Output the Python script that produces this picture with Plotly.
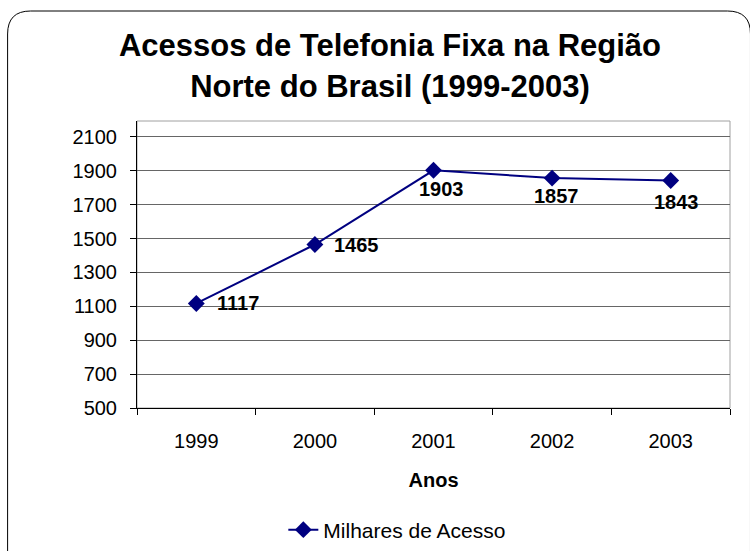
import plotly.graph_objects as go

# data
anos = ['1999', '2000', '2001', '2002', '2003']
acessos = [1117, 1465, 1903, 1857, 1843]
# label offsets from each marker (px)
desloc_x = [42, 42, 8, 4, 6]
desloc_y = [0, 0, -19, -18, -22]

W, H = 750, 551
L, R, T, B = 136.5, 20, 121, 143
pw, ph = W - L - R, H - T - B


def px(x, y):
    # pixel -> paper coords
    return (x - L) / pw, (H - B - y) / ph


def rounded_box(x0, y0, x1, y1, r):
    a = px(x0 + r, y0)
    pts = ['M %f,%f' % a]
    pts.append('L %f,%f' % px(x1 - r, y0))
    pts.append('Q %f,%f %f,%f' % (px(x1, y0) + px(x1, y0 + r)))
    pts.append('L %f,%f' % px(x1, y1 - r))
    pts.append('Q %f,%f %f,%f' % (px(x1, y1) + px(x1 - r, y1)))
    pts.append('L %f,%f' % px(x0 + r, y1))
    pts.append('Q %f,%f %f,%f' % (px(x0, y1) + px(x0, y1 - r)))
    pts.append('L %f,%f' % px(x0, y0 + r))
    pts.append('Q %f,%f %f,%f Z' % (px(x0, y0) + a))
    return ' '.join(pts)


fig = go.Figure(go.Scatter(
    x=anos, y=acessos,
    mode='lines+markers',
    name='Milhares de Acesso',
    line=dict(color='#000080', width=2),
    marker=dict(symbol='diamond', size=13, color='#000080'),
))

# category axis: annotations placed by category index
for i, (v, dx, dy) in enumerate(zip(acessos, desloc_x, desloc_y)):
    fig.add_annotation(x=i, y=v, text='<b>%d</b>' % v, showarrow=False,
                       xshift=dx, yshift=dy,
                       font=dict(family='Liberation Sans, Arial', size=20, color='black'))

fig.update_layout(
    width=W, height=H,
    margin=dict(l=L, r=R, t=T, b=B, autoexpand=False),
    paper_bgcolor='white', plot_bgcolor='white',
    font=dict(family='Liberation Sans, Arial', size=20, color='black'),
    title=dict(text='<b>Acessos de Telefonia Fixa na Região<br>Norte do Brasil (1999-2003)</b>',
               x=0.52, xref='container', xanchor='center',
               y=0.898, yref='container', yanchor='middle',
               font=dict(size=31)),
    showlegend=True,
    legend=dict(orientation='h', x=0.439, xanchor='center', y=-0.425, yanchor='middle',
                font=dict(size=21), bgcolor='rgba(0,0,0,0)'),
    xaxis=dict(type='category', range=[-0.5, 4.5], showgrid=False, automargin=False,
               showline=True, linecolor='black', linewidth=1,
               ticks='outside', tickson='boundaries', ticklen=6, tickcolor='black',
               ticklabelstandoff=15, tickfont=dict(size=20),
               title=dict(text='<b>Anos</b>', font=dict(size=20), standoff=21)),
    yaxis=dict(range=[500, 2194], tickvals=list(range(500, 2101, 200)), automargin=False,
               showgrid=True, gridcolor='#666666', gridwidth=1,
               showline=True, linecolor='black', linewidth=1,
               ticks='outside', ticklen=6, tickcolor='black',
               ticklabelstandoff=9, tickfont=dict(size=20), zeroline=False),
    shapes=[
        dict(type='rect', xref='paper', yref='paper', x0=0, x1=1, y0=0, y1=1,
             line=dict(color='#a0a0a0', width=1), layer='below'),
        dict(type='path', xref='paper', yref='paper', path=rounded_box(7, 11, 750.5, 580, 23),
             line=dict(color='black', width=1)),
    ],
)

fig.write_html("out.html", config={'displayModeBar': False},
               post_script="document.body.style.margin='0';")
